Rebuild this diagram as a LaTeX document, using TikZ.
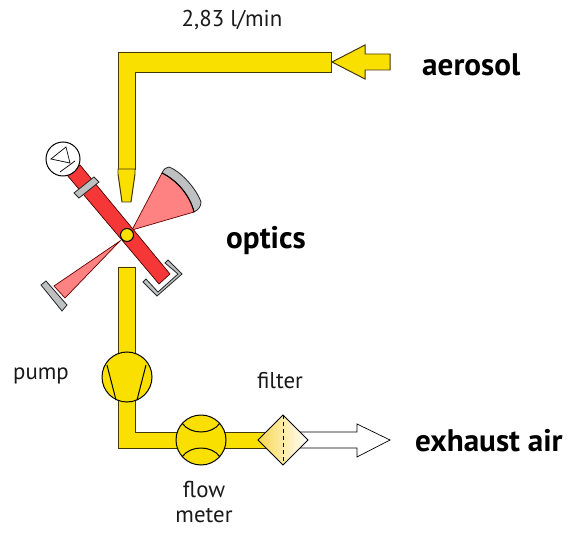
\documentclass[tikz,border=0pt]{standalone}
\usepackage{fontspec}
\setmainfont{PT Sans}
\usepackage{xcolor}
\usetikzlibrary{calc}
\definecolor{pipeyellow}{RGB}{250,224,0}
\definecolor{pipeedge}{RGB}{70,55,10}
\definecolor{laserred}{RGB}{245,55,55}
\definecolor{lightpink}{RGB}{255,130,130}
\definecolor{partgray}{RGB}{190,192,194}
\definecolor{filterleft}{RGB}{250,215,80}
\definecolor{filtermid}{RGB}{253,240,190}
\tikzset{
  pipe/.style={draw=pipeedge,fill=pipeyellow,line width=0.85pt,line join=miter},
  part/.style={draw=black!85,fill=partgray,line width=0.7pt},
  beam/.style={draw=black!60!red,fill=lightpink,line width=0.6pt},
  symb/.style={draw=black,line width=0.85pt},
  roundpart/.style={circle,draw=black,line width=0.85pt,minimum size=50*0.03cm,inner sep=0pt},
  lbl/.style={font=\fontsize{19.5}{21}\selectfont,text=black!90,inner sep=0pt,align=center},
  bigl/.style={font=\fontsize{26.6}{30}\selectfont\bfseries,text=black,inner sep=0pt}
}
\begin{document}
\begin{tikzpicture}[x=0.03cm,y=-0.03cm]
  \useasboundingbox (0,0) rectangle (580,538);
  % inlet
  \draw[pipe] (118,52) -- (331,52) -- (331,72) -- (135,72) -- (135,169) -- (118,169) -- cycle;
  \draw[pipe] (118,169) -- (135,169) -- (135,174) -- (131,202) -- (122,202) -- (118,174) -- cycle;
  \draw[pipe] (332,62) -- (365,45) -- (365,54) -- (390,54) -- (390,70) -- (365,70) -- (365,79) -- cycle;
  % outlet
  \draw[pipe] (118,267) -- (135,267) -- (135,432) -- (270,432) -- (270,448) -- (118,448) -- cycle;
  \draw[symb,fill=white,line width=0.6pt] (300,432) -- (357,432) -- (357,424) -- (390,440) -- (357,457) -- (357,448) -- (300,448) -- cycle;
  % optics
  \draw[part] (162,173) .. controls (164,169) and (166,167) .. (169,167) .. controls (182,172) and (197,190) .. (201,202) .. controls (201,207) and (198,210) .. (194,212) .. controls (190,196) and (178,181) .. (162,173) -- cycle;
  \draw[beam] (132,230) -- (162,173) .. controls (178,181) and (190,196) .. (194,212) -- cycle;
  \draw[symb] (162,173) .. controls (178,181) and (190,196) .. (194,212);
  \draw[beam] (120,241) -- (54,286) -- (65,298) -- cycle;
  \draw[part] (41,285) -- (46,281) -- (67,305) -- (62,311) -- cycle;
  \draw[draw=black!70!red,fill=laserred,line width=0.6pt] (67,175) -- (80,165) -- (170,274) -- (159,284) -- cycle;
  \draw[part] (74,193) -- (79,198) -- (99,182) -- (94,177) -- cycle;
  \draw[part] (168,260) -- (182,274) -- (157,296) -- (143,282) -- (146,279) -- (158,292) -- (178,274) -- (165,263) -- cycle;
  \node[circle,draw=black,fill=pipeyellow,line width=0.85pt,minimum size=13*0.03cm,inner sep=0pt] (scatter) at (127,235) {};
  \node[roundpart,fill=white,minimum size=34*0.03cm] (detector) at (63,159) {};
  \draw[symb,line width=0.6pt] (51,159) -- (66,147) -- (70,163) -- cycle;
  \draw[symb,line width=0.6pt] (60,172) -- (75,161);
  % pump, flow meter, filter
  \node[roundpart,fill=pipeyellow] (pump) at (127,377) {};
  \draw[symb] (107,365) -- (116,400);
  \draw[symb] (146,365) -- (137,400);
  \node[roundpart,fill=pipeyellow] (flow) at (201,440) {};
  \draw[symb] (182,423) .. controls (190,435) and (212,435) .. (220,423);
  \draw[symb] (182,457) .. controls (190,445) and (212,445) .. (220,457);
  \shade[left color=filterleft,middle color=filtermid,right color=white] (258,440) -- (283,415) -- (308,440) -- (283,465) -- cycle;
  \draw[symb] (258,440) -- (283,415) -- (308,440) -- (283,465) -- cycle;
  \draw[symb,dashed] (283,415) -- (283,465);
  % labels
  \node[lbl] (rate) at (232,20) {2,83 l/min};
  \node[bigl,anchor=west] (aerosol) at (422,65) {aerosol};
  \node[bigl,anchor=west] (optics) at (226,241) {optics};
  \node[lbl] (pumplbl) at (41,376) {pump};
  \node[lbl] (filterlbl) at (280,381) {filter};
  \node[lbl] (flowlbl) at (204,502) {flow\\meter};
  \node[bigl,anchor=west] (exhaust) at (415,441) {exhaust air};
\end{tikzpicture}
\end{document}
